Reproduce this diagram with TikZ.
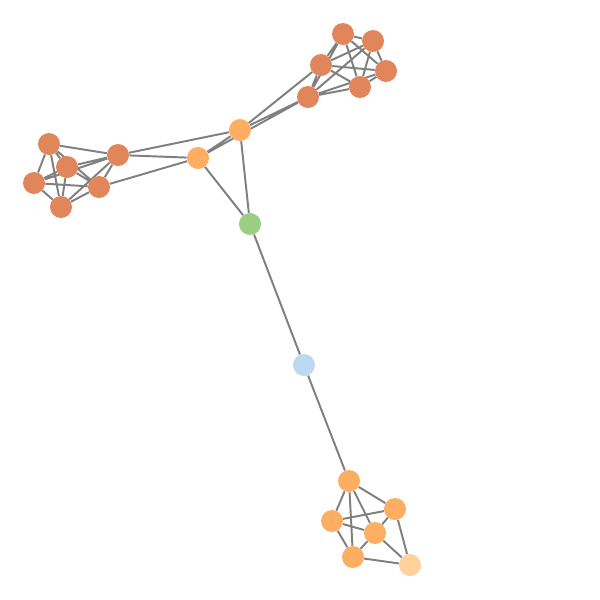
\documentclass[tikz,border=0pt]{standalone}
\usepackage{tikz}
\usetikzlibrary{backgrounds}

\definecolor{clusterorange}{RGB}{225,133,90}
\definecolor{huborange}{RGB}{254,174,98}
\definecolor{paleorange}{RGB}{255,210,155}
\definecolor{linkgreen}{RGB}{155,205,130}
\definecolor{midblue}{RGB}{190,215,242}

\begin{document}
\begin{tikzpicture}[x=0.025cm,y=-0.025cm,vertex/.style={circle,inner sep=0pt,minimum size=0.55cm},edge/.style={draw=gray,line width=1.4pt}]
  \useasboundingbox (0,0) rectangle (600,600);
  % top right group
  \node[vertex,fill=clusterorange] (top1) at (343,34) {};
  \node[vertex,fill=clusterorange] (top2) at (373,41) {};
  \node[vertex,fill=clusterorange] (top3) at (321,65) {};
  \node[vertex,fill=clusterorange] (top4) at (386,71) {};
  \node[vertex,fill=clusterorange] (top5) at (360,87) {};
  \node[vertex,fill=clusterorange] (top6) at (308,97) {};
  % left group
  \node[vertex,fill=clusterorange] (left1) at (49,144) {};
  \node[vertex,fill=clusterorange] (left2) at (67,167) {};
  \node[vertex,fill=clusterorange] (left3) at (118,155) {};
  \node[vertex,fill=clusterorange] (left4) at (34,183) {};
  \node[vertex,fill=clusterorange] (left5) at (99,187) {};
  \node[vertex,fill=clusterorange] (left6) at (61,207) {};
  % hubs
  \node[vertex,fill=huborange] (hub1) at (240,130) {};
  \node[vertex,fill=huborange] (hub2) at (198,158) {};
  \node[vertex,fill=linkgreen] (link) at (250,224) {};
  \node[vertex,fill=midblue] (mid) at (304,365) {};
  % bottom group
  \node[vertex,fill=huborange] (low1) at (349,481) {};
  \node[vertex,fill=huborange] (low2) at (395,509) {};
  \node[vertex,fill=huborange] (low3) at (332,521) {};
  \node[vertex,fill=huborange] (low4) at (375,533) {};
  \node[vertex,fill=huborange] (low5) at (353,557) {};
  \node[vertex,fill=paleorange] (low6) at (410,565) {};

  \begin{scope}[on background layer]
    \draw[edge] (top1) -- (top2) (top1) -- (top3) (top1) -- (top4) (top1) -- (top5) (top1) -- (top6)
      (top2) -- (top3) (top2) -- (top4) (top2) -- (top5) (top2) -- (top6)
      (top3) -- (top4) (top3) -- (top5) (top3) -- (top6)
      (top4) -- (top5) (top4) -- (top6) (top5) -- (top6);
    \draw[edge] (left1) -- (left2) (left1) -- (left3) (left1) -- (left4) (left1) -- (left5) (left1) -- (left6)
      (left2) -- (left3) (left2) -- (left4) (left2) -- (left5) (left2) -- (left6)
      (left3) -- (left4) (left3) -- (left5) (left3) -- (left6)
      (left4) -- (left5) (left4) -- (left6) (left5) -- (left6);
    \draw[edge] (hub1) -- (top3) (hub1) -- (top6) (hub2) -- (top6)
      (hub1) -- (left3) (hub2) -- (left3) (hub2) -- (left5)
      (hub1) -- (hub2) (hub1) -- (link) (hub2) -- (link)
      (link) -- (mid) (mid) -- (low1);
    \draw[edge] (low1) -- (low2) (low1) -- (low3) (low1) -- (low4) (low1) -- (low5)
      (low2) -- (low3) (low2) -- (low4) (low2) -- (low6)
      (low3) -- (low4) (low3) -- (low5)
      (low4) -- (low5) (low4) -- (low6) (low5) -- (low6);
  \end{scope}
\end{tikzpicture}
\end{document}
